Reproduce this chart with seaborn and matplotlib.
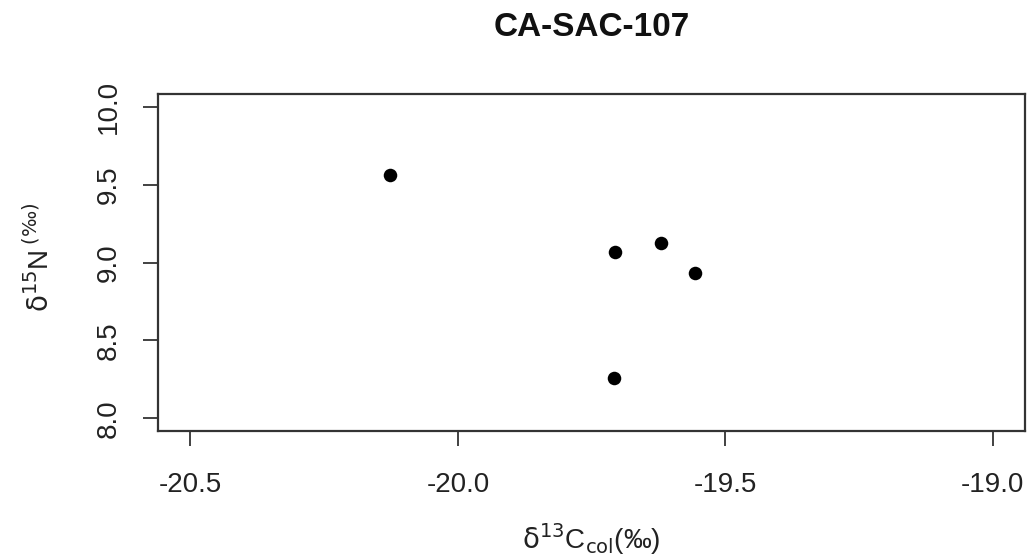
import matplotlib
matplotlib.use("Agg")
import matplotlib.pyplot as plt
import seaborn as sns
import pandas as pd

# Data
d13C = [-20.127, -19.706, -19.620, -19.556, -19.709]
d15N = [9.562, 9.065, 9.123, 8.931, 8.257]
x_ticks = [-20.5, -20.0, -19.5, -19.0]
y_ticks = [8.0, 8.5, 9.0, 9.5, 10.0]
title = "CA-SAC-107"

sns.set_theme(style="white")
plt.rcParams['font.family'] = ['Liberation Sans', 'DejaVu Sans']
plt.rcParams['mathtext.fontset'] = 'dejavusans'

df = pd.DataFrame({"d13C": d13C, "d15N": d15N})

fig = plt.figure(figsize=(10.28, 5.6), dpi=100)
ax = fig.add_axes([158.3/1028, 1-430.8/560, (1025-158.3)/1028, (430.8-94.2)/560])

sns.scatterplot(data=df, x="d13C", y="d15N", ax=ax, color="black", s=95,
                edgecolor="black", linewidth=0, marker="o")

ax.set_xlim(-20.56, -18.94)
ax.set_ylim(7.92, 10.08)
ax.set_xticks(x_ticks)
ax.set_xticklabels([f"{v:.1f}" for v in x_ticks])
ax.set_yticks(y_ticks)
ax.set_yticklabels([f"{v:.1f}" for v in y_ticks], rotation=90, va='center')

for sp in ax.spines.values():
    sp.set_visible(True)
    sp.set_color("#333333")
    sp.set_linewidth(1.6)

ax.tick_params(axis='both', which='both', direction='out', length=11, width=1.3,
               color="#333333", labelsize=20, labelcolor="#222222",
               bottom=True, left=True, top=False, right=False)
ax.tick_params(axis='x', pad=19)
ax.tick_params(axis='y', pad=15)

ax.set_xlabel(r"$\mathrm{\delta}^{13}$C$_{\mathrm{col}}$(‰)", fontsize=20, color="#222222")
ax.xaxis.set_label_coords(0.5, -0.322)
ax.xaxis.label.set_va('center')
ax.set_ylabel(r"$\mathrm{\delta}^{15}$N$\,^{(‰)}$", fontsize=20, color="#222222")
ax.yaxis.set_label_coords(-0.1365, 0.516)
ax.yaxis.label.set_va('center')

fig.text((158.3+1025)/2/1028, 1-28/560, title, ha='center', va='center',
         fontsize=24, fontweight='bold', color="#111111")

fig.savefig("out.png", dpi=100, facecolor="white")
